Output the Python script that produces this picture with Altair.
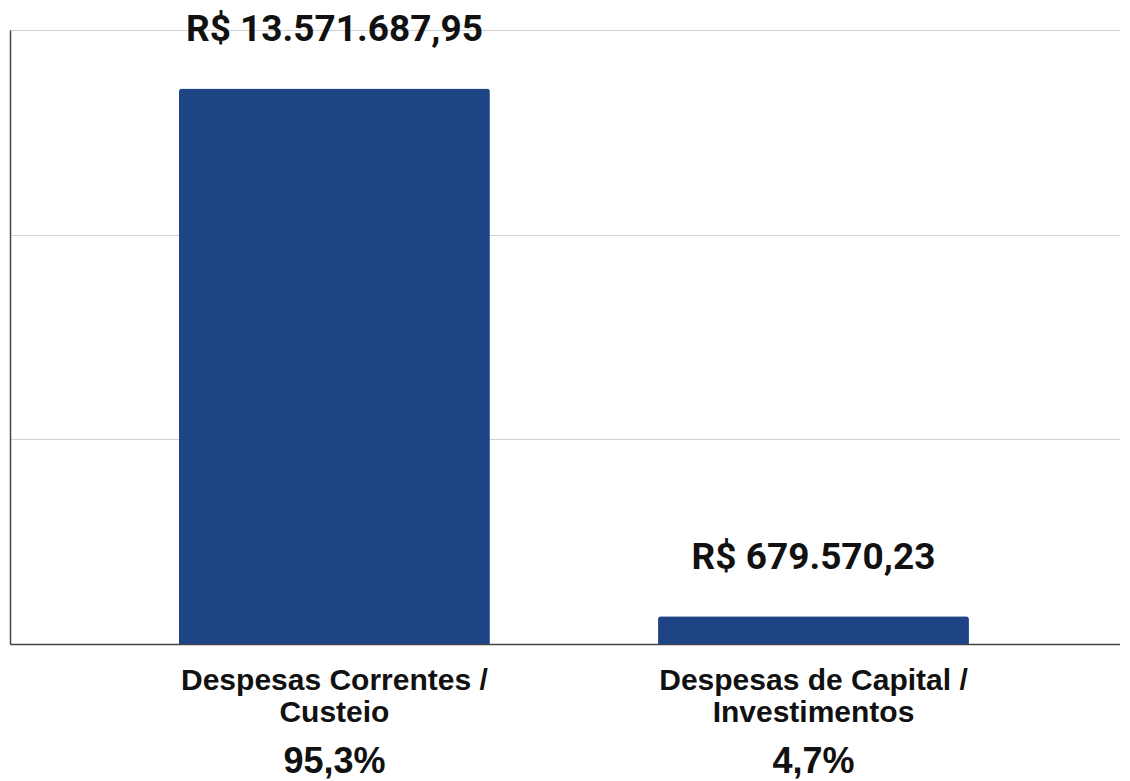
import altair as alt
import pandas as pd

categories = ["Despesas Correntes /\nCusteio", "Despesas de Capital /\nInvestimentos"]
values = [13571687.95, 679570.23]
value_labels = ["R$ 13.571.687,95", "R$ 679.570,23"]
percent_labels = ["95,3%", "4,7%"]
y_ticks = [0, 5000000, 10000000, 15000000]

df = pd.DataFrame({
    "categoria": categories,
    "valor": values,
    "rotulo": value_labels,
    "pct": percent_labels,
})

x_enc = alt.X(
    "categoria:N",
    sort=categories,
    title=None,
    scale=alt.Scale(paddingInner=0.351, paddingOuter=0.334, align=0.528),
    axis=alt.Axis(
        labelAngle=0,
        ticks=False,
        labelExpr="split(datum.label, '\\n')",
        labelFont="Liberation Sans",
        labelFontWeight="bold",
        labelFontSize=30,
        labelLineHeight=32,
        labelLimit=0,
        labelColor="#111111",
        labelPadding=21,
        domainColor="#444444",
        domainWidth=1.5,
        grid=False,
    ),
)

y_enc = alt.Y(
    "valor:Q",
    title=None,
    scale=alt.Scale(domain=[0, 15000000], nice=False),
    axis=alt.Axis(
        values=y_ticks,
        labels=False,
        ticks=False,
        grid=True,
        gridColor="#d0d0d0",
        gridWidth=1,
        domainColor="#444444",
        domainWidth=1.5,
    ),
)

base = alt.Chart(df)

bars = base.mark_bar(
    color="#1e4486", cornerRadiusTopLeft=3, cornerRadiusTopRight=3
).encode(x=x_enc, y=y_enc)

value_text = base.mark_text(
    font="Roboto", fontWeight="bold", fontSize=37, color="#111111",
    baseline="middle", align="center", dy=-58,
).encode(x=alt.X("categoria:N", sort=categories), y=alt.Y("valor:Q"), text="rotulo:N")

pct_text = base.mark_text(
    font="Liberation Sans", fontWeight="bold", fontSize=36, color="#111111",
    baseline="alphabetic", align="center", dy=129,
).encode(x=alt.X("categoria:N", sort=categories), y=alt.datum(0), text="pct:N")

chart = alt.layer(bars, value_text, pct_text).properties(
    width=1110,
    height=614,
    padding={"left": 2, "top": 22, "right": 0, "bottom": 136},
    autosize=alt.AutoSizeParams(type="none"),
).configure_view(stroke=None).configure(background="white")

chart.save("out.html", embed_options={"renderer": "svg", "actions": False})
